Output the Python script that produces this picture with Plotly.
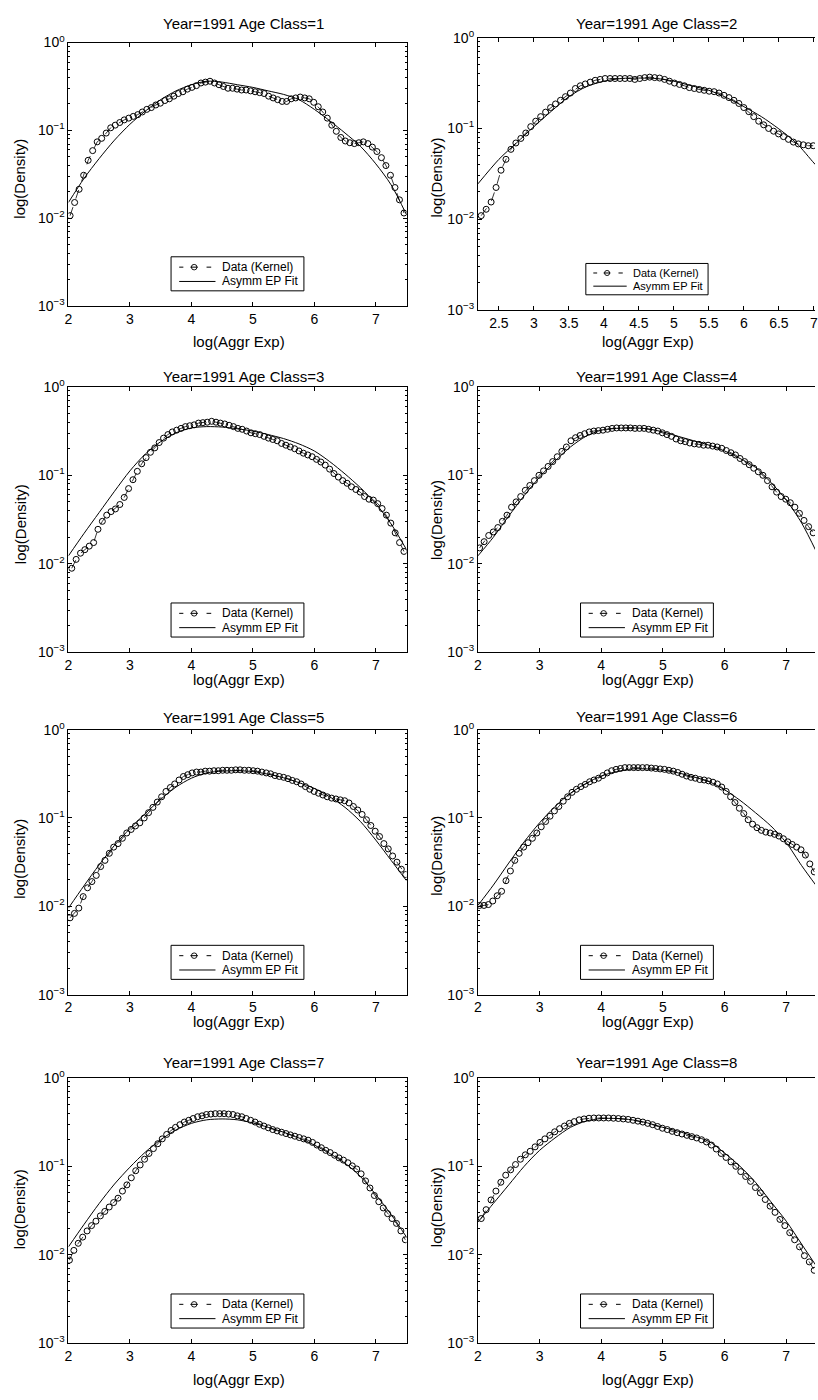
import plotly.graph_objects as go

W, H = 818, 1400
FONT = "Liberation Sans, Arial, Helvetica, sans-serif"

YEAR = 1991
age_classes = [1, 2, 3, 4, 5, 6, 7, 8]

# Kernel density estimates, log10(density), on a uniform evaluation grid
# (first grid point and spacing per age class)
grid_start = [2.027, 2.247, 2.054, 2.027, 2.027, 2.027, 2.016, 2.054]
grid_step = [0.0734, 0.0708, 0.0711, 0.0741, 0.0709, 0.0714, 0.0719, 0.0794]

data_log_1 = [-1.97, -1.82, -1.67, -1.51, -1.34, -1.23, -1.13, -1.09, -1.03, -0.97,
              -0.94, -0.91, -0.88, -0.86, -0.84, -0.82, -0.79, -0.76, -0.74, -0.71,
              -0.69, -0.66, -0.64, -0.61, -0.58, -0.56, -0.53, -0.51, -0.49, -0.46,
              -0.45, -0.44, -0.46, -0.48, -0.50, -0.52, -0.52, -0.53, -0.54, -0.54,
              -0.55, -0.56, -0.57, -0.58, -0.61, -0.63, -0.65, -0.67, -0.67, -0.64,
              -0.63, -0.62, -0.63, -0.64, -0.68, -0.73, -0.79, -0.86, -0.94, -1.01,
              -1.08, -1.12, -1.14, -1.15, -1.14, -1.13, -1.15, -1.19, -1.24, -1.31,
              -1.40, -1.51, -1.65, -1.79, -1.94]
data_log_2 = [-1.96, -1.89, -1.81, -1.65, -1.46, -1.34, -1.23, -1.16, -1.11, -1.05,
              -0.98, -0.92, -0.87, -0.82, -0.77, -0.73, -0.69, -0.65, -0.61, -0.56,
              -0.53, -0.51, -0.49, -0.47, -0.46, -0.45, -0.45, -0.45, -0.45, -0.45,
              -0.45, -0.46, -0.45, -0.44, -0.435, -0.44, -0.445, -0.46, -0.48, -0.50,
              -0.515, -0.53, -0.55, -0.56, -0.57, -0.58, -0.59, -0.595, -0.61, -0.635,
              -0.66, -0.69, -0.725, -0.77, -0.815, -0.87, -0.92, -0.96, -1.00, -1.03,
              -1.06, -1.09, -1.12, -1.15, -1.17, -1.18, -1.19, -1.19]
data_log_3 = [-2.05, -1.95, -1.88, -1.84, -1.80, -1.76, -1.61, -1.52, -1.45, -1.41,
              -1.38, -1.33, -1.25, -1.15, -1.05, -0.955, -0.87, -0.80, -0.74, -0.69,
              -0.63, -0.58, -0.54, -0.51, -0.49, -0.47, -0.45, -0.44, -0.43, -0.41,
              -0.405, -0.40, -0.39, -0.40, -0.41, -0.42, -0.435, -0.45, -0.47, -0.48,
              -0.50, -0.52, -0.53, -0.54, -0.56, -0.58, -0.595, -0.61, -0.64, -0.66,
              -0.68, -0.70, -0.725, -0.75, -0.77, -0.79, -0.82, -0.85, -0.885, -0.93,
              -0.98, -1.02, -1.06, -1.09, -1.13, -1.16, -1.19, -1.24, -1.27, -1.28,
              -1.32, -1.375, -1.45, -1.54, -1.65, -1.76, -1.86]
data_log_4 = [-1.82, -1.75, -1.68, -1.64, -1.59, -1.52, -1.45, -1.36, -1.30, -1.24,
              -1.17, -1.115, -1.06, -1.00, -0.95, -0.90, -0.845, -0.79, -0.73, -0.68,
              -0.61, -0.575, -0.55, -0.53, -0.51, -0.50, -0.495, -0.49, -0.48, -0.47,
              -0.465, -0.465, -0.465, -0.465, -0.47, -0.47, -0.47, -0.48, -0.49, -0.50,
              -0.52, -0.54, -0.56, -0.59, -0.61, -0.62, -0.635, -0.645, -0.65, -0.66,
              -0.66, -0.67, -0.68, -0.695, -0.72, -0.745, -0.77, -0.81, -0.845, -0.88,
              -0.92, -0.96, -1.00, -1.06, -1.13, -1.19, -1.24, -1.27, -1.31, -1.36,
              -1.43, -1.51, -1.58, -1.65]
data_log_5 = [-2.13, -2.08, -2.02, -1.89, -1.79, -1.72, -1.65, -1.55, -1.48, -1.40,
              -1.33, -1.29, -1.23, -1.17, -1.13, -1.09, -1.055, -1.00, -0.94, -0.88,
              -0.82, -0.76, -0.70, -0.655, -0.615, -0.57, -0.53, -0.51, -0.49, -0.48,
              -0.48, -0.47, -0.47, -0.465, -0.465, -0.46, -0.46, -0.46, -0.455, -0.455,
              -0.46, -0.46, -0.465, -0.47, -0.48, -0.49, -0.50, -0.52, -0.53, -0.54,
              -0.555, -0.575, -0.59, -0.615, -0.645, -0.675, -0.70, -0.72, -0.74, -0.76,
              -0.775, -0.785, -0.795, -0.805, -0.83, -0.87, -0.91, -0.96, -1.02, -1.085,
              -1.15, -1.21, -1.29, -1.35, -1.43, -1.50, -1.58, -1.64]
data_log_6 = [-1.99, -1.99, -1.98, -1.94, -1.88, -1.83, -1.71, -1.60, -1.48, -1.40,
              -1.33, -1.28, -1.23, -1.17, -1.10, -1.04, -0.98, -0.92, -0.87, -0.81,
              -0.76, -0.71, -0.675, -0.645, -0.62, -0.59, -0.57, -0.55, -0.52, -0.49,
              -0.465, -0.45, -0.44, -0.43, -0.43, -0.43, -0.43, -0.43, -0.43, -0.435,
              -0.44, -0.445, -0.45, -0.46, -0.47, -0.485, -0.505, -0.525, -0.54, -0.55,
              -0.565, -0.57, -0.58, -0.595, -0.615, -0.65, -0.70, -0.76, -0.825, -0.89,
              -0.95, -1.02, -1.07, -1.11, -1.14, -1.16, -1.17, -1.185, -1.205, -1.235,
              -1.27, -1.30, -1.33, -1.36, -1.42, -1.52, -1.61]
data_log_7 = [-2.06, -1.95, -1.87, -1.80, -1.73, -1.67, -1.62, -1.56, -1.51, -1.46,
              -1.41, -1.36, -1.28, -1.21, -1.13, -1.05, -0.985, -0.92, -0.855, -0.80,
              -0.745, -0.69, -0.64, -0.595, -0.56, -0.53, -0.50, -0.48, -0.46, -0.44,
              -0.43, -0.415, -0.41, -0.405, -0.405, -0.405, -0.41, -0.415, -0.43, -0.44,
              -0.46, -0.48, -0.50, -0.525, -0.545, -0.565, -0.585, -0.60, -0.615, -0.63,
              -0.645, -0.66, -0.675, -0.69, -0.705, -0.73, -0.76, -0.79, -0.82, -0.845,
              -0.875, -0.905, -0.93, -0.96, -0.995, -1.03, -1.085, -1.165, -1.245, -1.33,
              -1.40, -1.47, -1.535, -1.59, -1.645, -1.73, -1.83]
data_log_8 = [-1.59, -1.49, -1.38, -1.28, -1.18, -1.10, -1.04, -0.98, -0.92, -0.87,
              -0.83, -0.78, -0.73, -0.69, -0.65, -0.61, -0.575, -0.545, -0.515, -0.495,
              -0.475, -0.465, -0.457, -0.454, -0.454, -0.454, -0.454, -0.457, -0.46, -0.465,
              -0.47, -0.48, -0.49, -0.50, -0.515, -0.53, -0.55, -0.57, -0.585, -0.605,
              -0.62, -0.635, -0.65, -0.665, -0.68, -0.70, -0.725, -0.76, -0.805, -0.855,
              -0.90, -0.95, -1.00, -1.06, -1.115, -1.17, -1.24, -1.30, -1.375, -1.45,
              -1.52, -1.60, -1.67, -1.75, -1.83, -1.91, -2.01, -2.08, -2.175]

# Asymmetric exponential power fit, log10(density) at selected points
fit_x = [2.0, 2.25, 2.5, 2.75, 3.0, 3.25, 3.5, 3.75, 4.0, 4.25, 4.5, 4.75,
         5.0, 5.25, 5.5, 5.75, 6.0, 6.25, 6.5, 6.75, 7.0, 7.25, 7.5]
fit_x_2 = [2.2, 2.5, 2.75, 3.0, 3.25, 3.5, 3.75, 4.0, 4.25, 4.5, 4.75,
           5.0, 5.25, 5.5, 5.75, 6.0, 6.25, 6.5, 6.75, 7.0, 7.05]
fit_log_1 = [-1.82, -1.55, -1.32, -1.11, -0.93, -0.78, -0.65, -0.55, -0.48, -0.44, -0.45, -0.48,
             -0.51, -0.55, -0.59, -0.65, -0.76, -0.89, -1.03, -1.18, -1.38, -1.62, -1.96]
fit_log_2 = [-1.61, -1.34, -1.16, -0.98, -0.81, -0.65, -0.54, -0.48, -0.45, -0.445, -0.45,
             -0.48, -0.53, -0.58, -0.66, -0.76, -0.87, -1.005, -1.16, -1.38, -1.42]
fit_log_3 = [-1.91, -1.66, -1.42, -1.18, -0.95, -0.76, -0.62, -0.52, -0.465, -0.45, -0.455, -0.475,
             -0.50, -0.54, -0.585, -0.645, -0.725, -0.845, -0.985, -1.14, -1.32, -1.55, -1.84]
fit_log_4 = [-1.91, -1.70, -1.46, -1.23, -1.02, -0.84, -0.68, -0.56, -0.49, -0.47, -0.465, -0.475,
             -0.51, -0.56, -0.61, -0.66, -0.725, -0.81, -0.91, -1.08, -1.28, -1.54, -1.88]
fit_log_5 = [-2.02, -1.77, -1.53, -1.31, -1.12, -0.95, -0.79, -0.65, -0.55, -0.49, -0.47, -0.465,
             -0.475, -0.505, -0.545, -0.60, -0.665, -0.76, -0.88, -1.04, -1.25, -1.48, -1.71]
fit_log_6 = [-1.99, -1.76, -1.51, -1.27, -1.055, -0.87, -0.72, -0.61, -0.525, -0.475, -0.445, -0.445,
             -0.46, -0.49, -0.535, -0.59, -0.68, -0.80, -0.94, -1.09, -1.28, -1.54, -1.78]
fit_log_7 = [-1.91, -1.66, -1.42, -1.20, -1.01, -0.84, -0.70, -0.59, -0.515, -0.475, -0.465, -0.475,
             -0.51, -0.56, -0.615, -0.68, -0.76, -0.855, -0.965, -1.115, -1.32, -1.545, -1.80]
fit_log_8 = [-1.63, -1.42, -1.21, -1.00, -0.82, -0.68, -0.56, -0.49, -0.46, -0.46, -0.475, -0.51,
             -0.56, -0.605, -0.66, -0.72, -0.85, -1.00, -1.18, -1.40, -1.62, -1.88, -2.14]

# Axis settings
x_ranges = [[2, 7.5], [2.2, 7.016], [2, 7.5], [2, 7.466],
            [2, 7.5], [2, 7.466], [2, 7.5], [2, 7.466]]
x_dticks = [1, 0.5, 1, 1, 1, 1, 1, 1]
y_tick_vals = [0.001, 0.01, 0.1, 1]
y_tick_text = ["10<sup>\u22123</sup>", "10<sup>\u22122</sup>", "10<sup>\u22121</sup>", "10<sup>0</sup>"]
y_minor_vals = [m * 10 ** e for e in (-3, -2, -1) for m in range(2, 10)]

data_logs = [data_log_1, data_log_2, data_log_3, data_log_4,
             data_log_5, data_log_6, data_log_7, data_log_8]
fit_xs = [fit_x, fit_x_2, fit_x, fit_x, fit_x, fit_x, fit_x, fit_x]
fit_logs = [fit_log_1, fit_log_2, fit_log_3, fit_log_4,
            fit_log_5, fit_log_6, fit_log_7, fit_log_8]

# Page layout in pixels: plot boxes (left, top, right, bottom)
panel_box = [(65, 33, 406, 300), (478, 28, 818, 304),
             (65, 381.7, 406, 650.7), (478, 381.7, 818, 650.7),
             (65, 729, 406, 997.5), (478, 729, 818, 997.5),
             (65, 1081.7, 406, 1350.7), (478, 1081.7, 818, 1350.7)]
title_y = [14, 14, 371.5, 371.5, 717, 715.5, 1066, 1066]
xlabel_y = [336, 336, 678, 678, 1025, 1025, 1387, 1387]
ylabel_y = [171, 170, 521, 517, 860, 857, 1215, 1213]
legend_scale = [1, 0.92, 1, 1, 1, 1, 1, 1]


def fx(px):
    return px / W


def fy(py):
    return 1 - py / H


fig = go.Figure()
layout = dict(
    width=W, height=H, autosize=False,
    margin=dict(l=0, r=0, t=0, b=0),
    paper_bgcolor="white", plot_bgcolor="white",
    font=dict(family=FONT, color="black", size=14),
    showlegend=False,
)

shapes = []
annotations = []

for k, age in enumerate(age_classes):
    i = k + 1
    xa = "x" if i == 1 else f"x{i}"
    ya = "y" if i == 1 else f"y{i}"
    left, top, right, bottom = panel_box[k]
    right_col = k % 2 == 1

    xs = [grid_start[k] + grid_step[k] * j for j in range(len(data_logs[k]))]
    fig.add_trace(go.Scatter(
        x=xs, y=[10 ** v for v in data_logs[k]], xaxis=xa, yaxis=ya,
        mode="lines+markers", name="Data (Kernel)",
        line=dict(color="black", width=0.8, dash="dash"),
        marker=dict(symbol="circle-open", size=6, color="black", line=dict(width=1)),
    ))
    fig.add_trace(go.Scatter(
        x=fit_xs[k], y=[10 ** v for v in fit_logs[k]], xaxis=xa, yaxis=ya,
        mode="lines", name="Asymm EP Fit",
        line=dict(color="black", width=1, shape="spline", smoothing=0.8),
    ))

    layout["xaxis" if i == 1 else f"xaxis{i}"] = dict(
        domain=[fx(left), fx(right)], anchor=ya, range=x_ranges[k],
        tick0=0, dtick=x_dticks[k], ticks="inside", ticklen=4, tickwidth=1,
        tickcolor="black", showline=True, linecolor="black", linewidth=1,
        mirror="ticks", showgrid=False, zeroline=False,
        ticklabeloverflow="allow",
        tickfont=dict(size=14, color="black", family=FONT),
    )
    layout["yaxis" if i == 1 else f"yaxis{i}"] = dict(
        domain=[fy(bottom), fy(top)], anchor=xa, type="log", range=[-3, 0],
        tickmode="array", tickvals=y_tick_vals, ticktext=y_tick_text,
        ticks="inside", ticklen=4, tickwidth=1, tickcolor="black",
        showline=True, linecolor="black", linewidth=1,
        mirror=False if right_col else "ticks",
        showgrid=False, zeroline=False,
        tickfont=dict(size=14, color="black", family=FONT),
        minor=dict(tickmode="array", tickvals=y_minor_vals, ticks="inside",
                   ticklen=2, tickcolor="black", tickwidth=0.8, showgrid=False),
    )

    # Panel title and axis labels
    annotations.append(dict(
        text=f"Year={YEAR} Age Class={age}", xref="paper", yref="paper",
        x=fx(left + (180 if right_col else 177)), y=fy(title_y[k]),
        xanchor="center", yanchor="middle", showarrow=False,
        font=dict(size=15, color="black", family=FONT),
    ))
    annotations.append(dict(
        text="log(Aggr Exp)", xref="paper", yref="paper",
        x=fx(left + 172), y=fy(xlabel_y[k]),
        xanchor="center", yanchor="middle", showarrow=False,
        font=dict(size=15, color="black", family=FONT),
    ))
    annotations.append(dict(
        text="log(Density)", xref="paper", yref="paper",
        x=fx(436.5 if right_col else 16), y=fy(ylabel_y[k]),
        xanchor="center", yanchor="middle", showarrow=False, textangle=-90,
        font=dict(size=15, color="black", family=FONT),
    ))

    # Legend box at the bottom centre of the axes
    s = legend_scale[k]
    bw, bh = 134 * s, 34.5 * s
    bx = left + 170.5 - bw / 2
    bb = bottom - 15.5
    bt = bb - bh
    shapes.append(dict(type="rect", xref="paper", yref="paper",
                       x0=fx(bx), x1=fx(bx + bw), y0=fy(bb), y1=fy(bt),
                       line=dict(color="black", width=1), fillcolor="white", layer="above"))
    r1 = bt + 10.5 * s
    r2 = bt + 25 * s
    for a, b in ((8.2, 12.4), (19.5, 27.0), (35.8, 40.5)):
        shapes.append(dict(type="line", xref="paper", yref="paper",
                           x0=fx(bx + a * s), x1=fx(bx + b * s), y0=fy(r1), y1=fy(r1),
                           line=dict(color="black", width=1), layer="above"))
    cr = 2.8 * s
    cx = bx + 23.3 * s
    shapes.append(dict(type="circle", xref="paper", yref="paper",
                       x0=fx(cx - cr), x1=fx(cx + cr), y0=fy(r1 + cr), y1=fy(r1 - cr),
                       line=dict(color="black", width=0.9), layer="above"))
    shapes.append(dict(type="line", xref="paper", yref="paper",
                       x0=fx(bx + 8.2 * s), x1=fx(bx + 44.8 * s), y0=fy(r2), y1=fy(r2),
                       line=dict(color="black", width=1), layer="above"))
    for label, ry in (("Data (Kernel)", r1), ("Asymm EP Fit", r2)):
        annotations.append(dict(
            text=label, xref="paper", yref="paper",
            x=fx(bx + 49.5 * s), y=fy(ry), xanchor="left", yanchor="middle",
            showarrow=False, font=dict(size=12 * s, color="black", family=FONT),
        ))

layout["shapes"] = shapes
layout["annotations"] = annotations
fig.update_layout(**layout)

fig.write_html("out.html")
